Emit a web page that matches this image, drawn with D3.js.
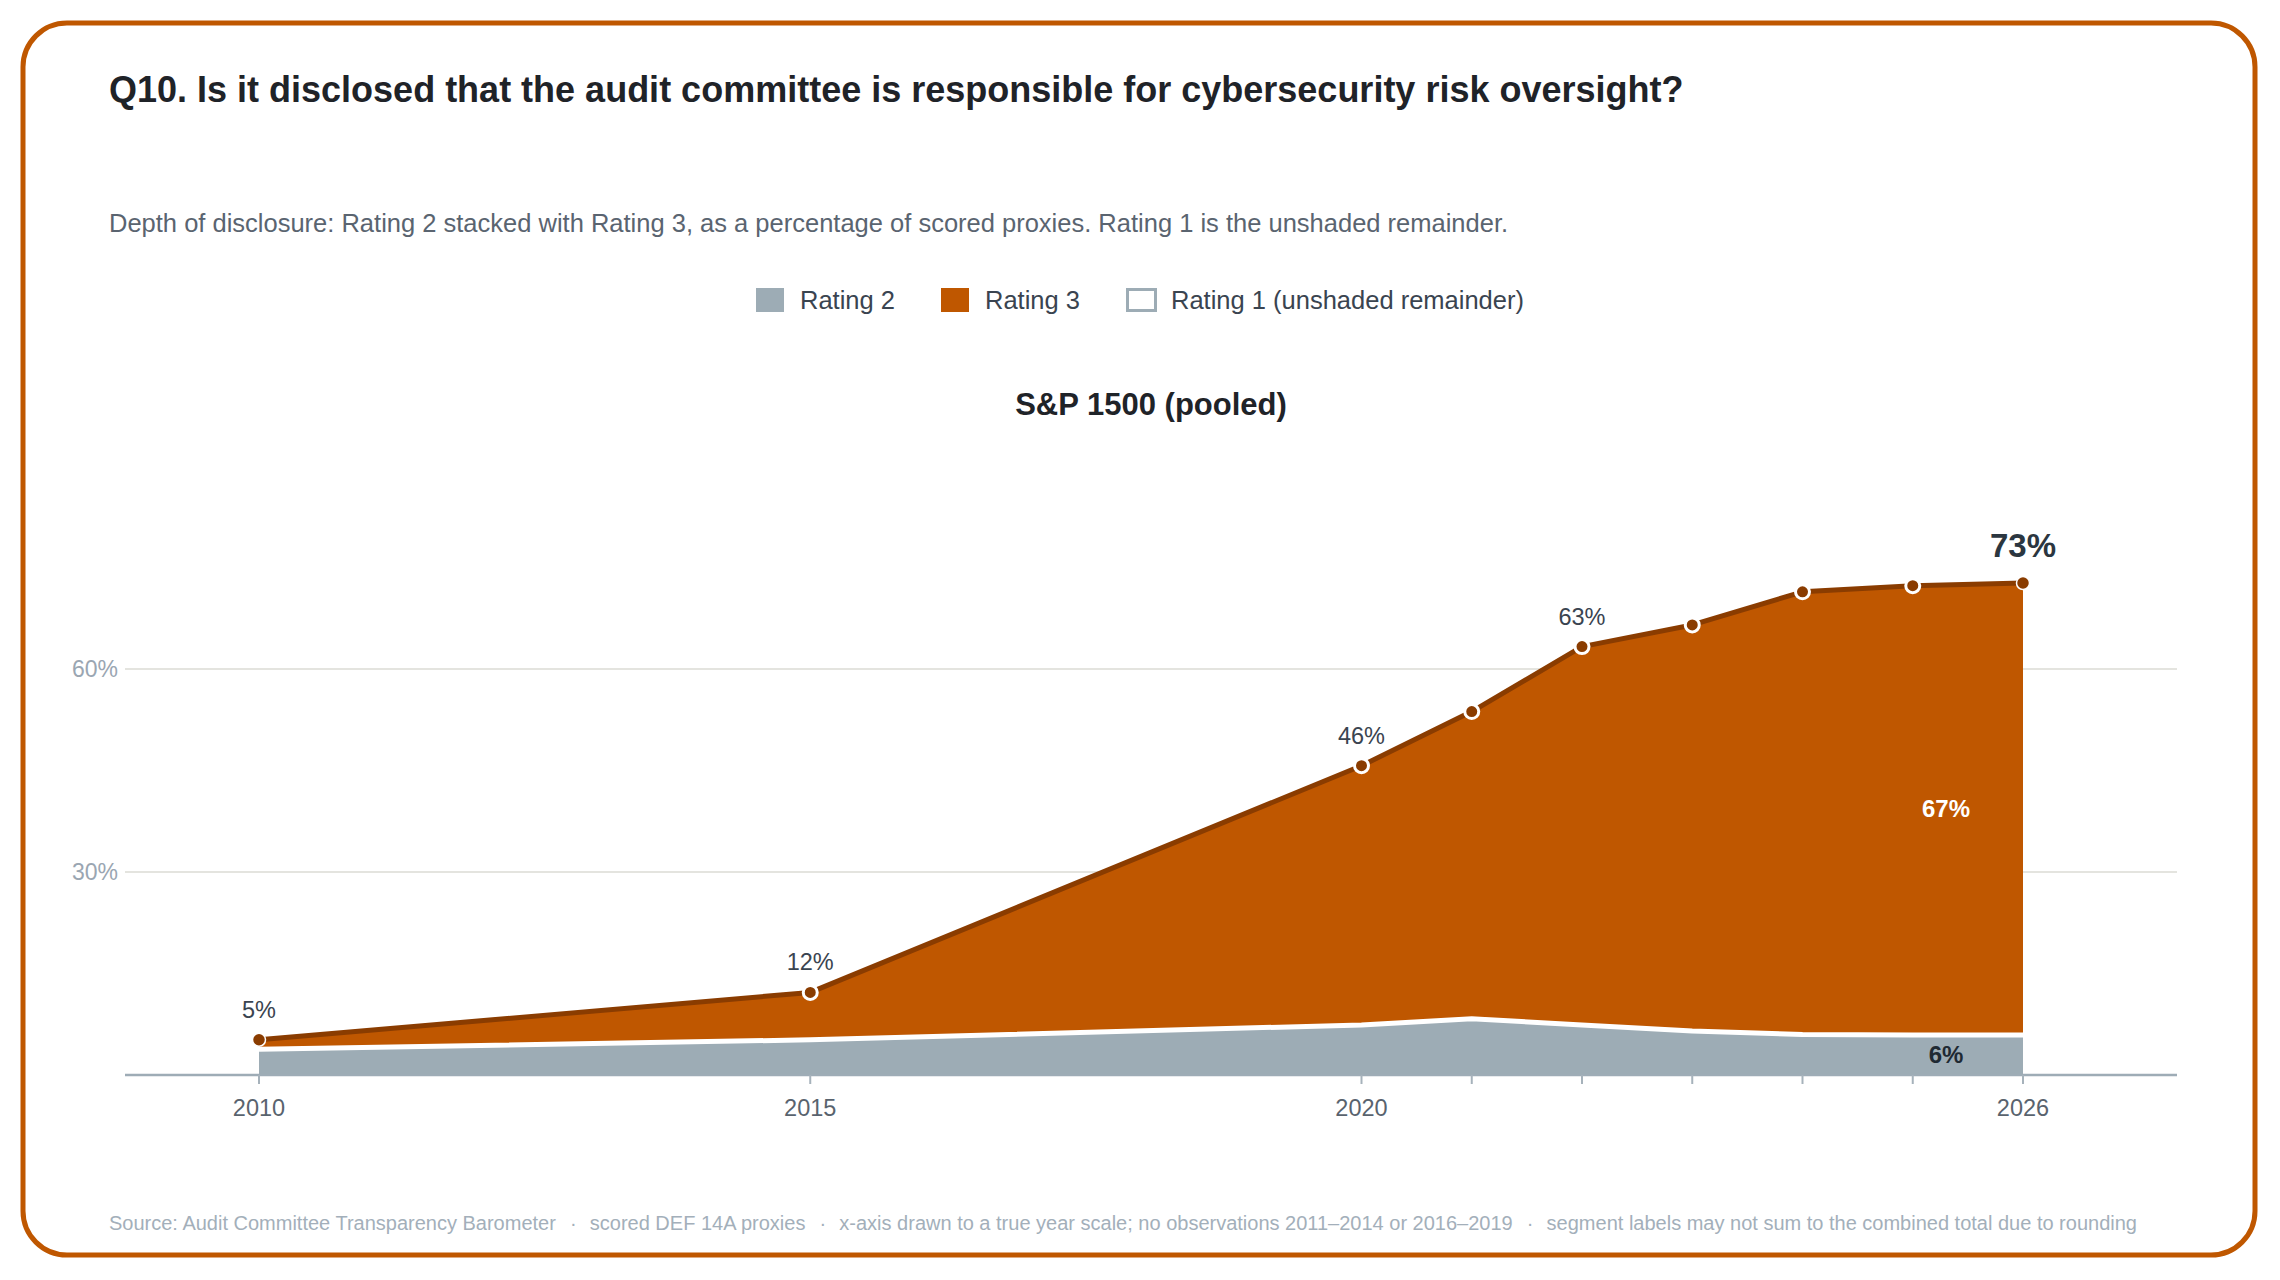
<!DOCTYPE html>
<html>
<head>
<meta charset="utf-8">
<script src="https://cdn.jsdelivr.net/npm/d3@7/dist/d3.min.js"></script>
<style>
  html, body { margin: 0; padding: 0; background: #ffffff; }
  svg { display: block; font-family: "Liberation Sans", Arial, Helvetica, sans-serif; }
</style>
</head>
<body>
<svg id="chart" width="2280" height="1280"></svg>
<script>
// ---- data ----
const years = [2010, 2015, 2020, 2021, 2022, 2023, 2024, 2025, 2026];
const rating2 = [3.8, 5.2, 7.4, 8.3, 7.4, 6.5, 6.0, 5.9, 5.9];
const rating3 = [1.4, 7.0, 38.3, 45.4, 55.9, 60.0, 65.4, 66.4, 66.8];
const labeledYears = [2010, 2015, 2020, 2022];
const xTickLabels = [2010, 2015, 2020, 2026];
const yTicks = [30, 60];
const legendItems = ["Rating 2", "Rating 3", "Rating 1 (unshaded remainder)"];
const titleText = "Q10. Is it disclosed that the audit committee is responsible for cybersecurity risk oversight?";
const subtitleText = "Depth of disclosure: Rating 2 stacked with Rating 3, as a percentage of scored proxies. Rating 1 is the unshaded remainder.";
const panelTitle = "S&P 1500 (pooled)";
const footerParts = ["Source: Audit Committee Transparency Barometer", "scored DEF 14A proxies", "x-axis drawn to a true year scale; no observations 2011\u20132014 or 2016\u20132019", "segment labels may not sum to the combined total due to rounding"];

// ---- styles ----
const C_ORANGE = "#bf5700";
const C_DARK = "#8a3c00";
const C_GRAY = "#9dacb5";

const data = years.map((y, i) => ({ year: y, r2: rating2[i], r3: rating3[i], total: rating2[i] + rating3[i] }));

const svg = d3.select("#chart");

// frame
svg.append("rect").attr("x", 23).attr("y", 23).attr("width", 2232).attr("height", 1232)
  .attr("rx", 44).attr("ry", 44).attr("fill", "#fff").attr("stroke", C_ORANGE).attr("stroke-width", 5);

// titles
svg.append("text").attr("x", 109).attr("y", 102).attr("font-size", 36).attr("font-weight", "bold")
  .attr("fill", "#1f2328").text(titleText);
svg.append("text").attr("x", 109).attr("y", 232).attr("font-size", 25.5)
  .attr("fill", "#5a6470").text(subtitleText);

// legend
const legend = svg.append("g");
const legendX = [756, 941, 1126];
legendItems.forEach((name, i) => {
  const g = legend.append("g").attr("transform", `translate(${legendX[i]},288)`);
  if (i === 0) g.append("rect").attr("width", 28).attr("height", 24).attr("fill", C_GRAY);
  else if (i === 1) g.append("rect").attr("width", 28).attr("height", 24).attr("fill", C_ORANGE);
  else g.append("rect").attr("x", 1.5).attr("y", 1.5).attr("width", 28).attr("height", 21).attr("fill", "#fff").attr("stroke", C_GRAY).attr("stroke-width", 3);
  g.append("text").attr("x", i === 2 ? 45 : 44).attr("y", 21).attr("font-size", 25.5).attr("fill", "#3a4450").text(name);
});

// panel title
svg.append("text").attr("x", 1151).attr("y", 415).attr("text-anchor", "middle")
  .attr("font-size", 31).attr("font-weight", "bold").attr("fill", "#1f2328").text(panelTitle);

// scales
const x = d3.scaleLinear().domain([2010, 2026]).range([259, 2023]);
const y = d3.scaleLinear().domain([0, 80]).range([1075, 533.6]);
const plotLeft = 125, plotRight = 2177;

// gridlines
const grid = svg.append("g");
yTicks.forEach(t => {
  grid.append("line").attr("x1", plotLeft).attr("x2", plotRight).attr("y1", y(t)).attr("y2", y(t))
    .attr("stroke", "#e4e4df").attr("stroke-width", 2);
  grid.append("text").attr("x", 118).attr("y", y(t)).attr("dy", "0.35em").attr("text-anchor", "end")
    .attr("font-size", 23).attr("fill", "#9aa6b2").text(t + "%");
});

// areas
const areaR2 = d3.area().x(d => x(d.year)).y0(y(0)).y1(d => y(d.r2));
const areaR3 = d3.area().x(d => x(d.year)).y0(d => y(d.r2)).y1(d => y(d.total));
svg.append("path").datum(data).attr("d", areaR3).attr("fill", C_ORANGE);
svg.append("path").datum(data).attr("d", areaR2).attr("fill", C_GRAY);
svg.append("path").datum(data).attr("d", d3.line().x(d => x(d.year)).y(d => y(d.r2)))
  .attr("fill", "none").attr("stroke", "#fff").attr("stroke-width", 5);
svg.append("path").datum(data).attr("d", d3.line().x(d => x(d.year)).y(d => y(d.total)))
  .attr("fill", "none").attr("stroke", C_DARK).attr("stroke-width", 5).attr("stroke-linejoin", "round");

// x axis
const axisG = svg.append("g");
axisG.append("line").attr("x1", plotLeft).attr("x2", plotRight).attr("y1", y(0)).attr("y2", y(0))
  .attr("stroke", "#9eacb6").attr("stroke-width", 2.5);
years.forEach(yr => {
  axisG.append("line").attr("x1", x(yr)).attr("x2", x(yr)).attr("y1", y(0)).attr("y2", y(0) + 9)
    .attr("stroke", "#a6b2bb").attr("stroke-width", 2);
});
xTickLabels.forEach(yr => {
  axisG.append("text").attr("x", x(yr)).attr("y", 1116).attr("text-anchor", "middle")
    .attr("font-size", 23.5).attr("fill", "#59636e").text(yr);
});

// dots
const last = data[data.length - 1];
data.forEach((d, i) => {
  const end = (i === 0 || i === data.length - 1);
  svg.append("circle").attr("cx", x(d.year)).attr("cy", y(d.total)).attr("r", end ? 6.5 : 7)
    .attr("fill", C_DARK).attr("stroke", "#fff").attr("stroke-width", end ? 1.5 : 3);
});

// value labels
data.filter(d => labeledYears.includes(d.year)).forEach(d => {
  svg.append("text").attr("x", x(d.year)).attr("y", y(d.total) - 22).attr("text-anchor", "middle")
    .attr("font-size", 23.5).attr("fill", "#3a4450").text(Math.round(d.total) + "%");
});
svg.append("text").attr("x", x(last.year)).attr("y", y(last.total) - 26).attr("text-anchor", "middle")
  .attr("font-size", 33).attr("font-weight", "bold").attr("fill", "#2b3640").text(Math.round(last.total) + "%");

// segment labels
const segX = x(last.year) - 77;
svg.append("text").attr("x", segX).attr("y", (y(last.r2) + y(last.total)) / 2).attr("dy", "0.35em")
  .attr("text-anchor", "middle").attr("font-size", 24).attr("font-weight", "bold").attr("fill", "#ffffff")
  .text(Math.round(last.r3) + "%");
svg.append("text").attr("x", segX).attr("y", (y(0) + y(last.r2)) / 2).attr("dy", "0.35em")
  .attr("text-anchor", "middle").attr("font-size", 24).attr("font-weight", "bold").attr("fill", "#1f2a33")
  .text(Math.round(last.r2) + "%");

// footer
const footer = svg.append("text").attr("x", 109).attr("y", 1230).attr("font-size", 20).attr("fill", "#a3afba")
  .attr("xml:space", "preserve").style("white-space", "pre");
footerParts.forEach((p, i) => {
  if (i > 0) {
    footer.append("tspan").attr("dx", 3).text("  \u00b7  ");
    footer.append("tspan").attr("dx", 2).text(p);
  } else {
    footer.append("tspan").text(p);
  }
});
</script>
</body>
</html>
